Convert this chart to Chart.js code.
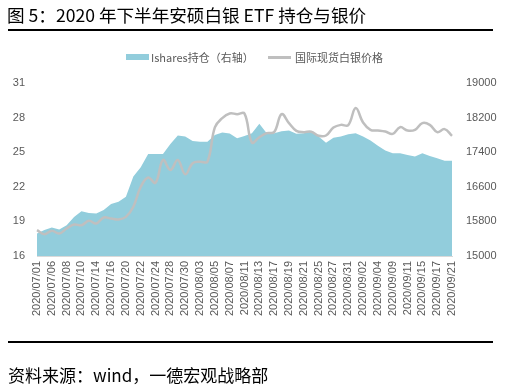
<!DOCTYPE html>
<html>
<head>
<meta charset="utf-8">
<script src="https://cdn.jsdelivr.net/npm/chart.js@4.4.0/dist/chart.umd.min.js"></script>
<style>
  html, body { margin: 0; padding: 0; background: #fff; }
  body { width: 509px; height: 392px; position: relative; overflow: hidden; font-family: "Noto Sans CJK SC", sans-serif; }
  #title { position: absolute; left: 7px; top: 4px; font-size: 17.6px; line-height: 21px; color: #000; white-space: nowrap; }
  .rule { position: absolute; left: 8px; width: 485px; height: 2px; background: #000; }
  #source { position: absolute; left: 8px; top: 364px; font-size: 17px; line-height: 21px; color: #000; white-space: nowrap; }
  #legend { position: absolute; top: 48px; left: 0; width: 509px; height: 18px; font-size: 11px; color: #595959; }
  .lg { position: absolute; top: 0; line-height: 18px; white-space: nowrap; }
  .sw { position: absolute; }
  canvas { position: absolute; left: 0; top: 0; }
</style>
</head>
<body>
<canvas id="c" width="509" height="392"></canvas>
<div id="title">图 5：2020 年下半年安硕白银 ETF 持仓与银价</div>
<div class="rule" style="top:29px"></div>
<div id="legend">
  <div class="sw" style="left:126px; top:6px; width:23px; height:6px; background:#92CDDC"></div>
  <div class="lg" style="left:151px">Ishares持仓（右轴）</div>
  <div class="sw" style="left:268px; top:8px; width:23px; height:3px; background:#BFBFBF"></div>
  <div class="lg" style="left:295px">国际现货白银价格</div>
</div>
<div class="rule" style="top:341px"></div>
<div id="source">资料来源：wind，一德宏观战略部</div>
<script>
const categories = [
  '2020/07/01','2020/07/02','2020/07/06','2020/07/07','2020/07/08','2020/07/09','2020/07/10',
  '2020/07/13','2020/07/14','2020/07/15','2020/07/16','2020/07/17','2020/07/20','2020/07/21',
  '2020/07/22','2020/07/23','2020/07/24','2020/07/27','2020/07/28','2020/07/29','2020/07/30',
  '2020/07/31','2020/08/03','2020/08/04','2020/08/05','2020/08/06','2020/08/07','2020/08/10',
  '2020/08/11','2020/08/12','2020/08/13','2020/08/14','2020/08/17','2020/08/18','2020/08/19',
  '2020/08/20','2020/08/21','2020/08/24','2020/08/25','2020/08/26','2020/08/27','2020/08/28',
  '2020/08/31','2020/09/01','2020/09/02','2020/09/03','2020/09/04','2020/09/08','2020/09/09',
  '2020/09/10','2020/09/11','2020/09/14','2020/09/15','2020/09/16','2020/09/17','2020/09/18',
  '2020/09/21'
];
// iShares silver ETF holdings (right axis)
const ishares = [
  15520,15600,15659,15613,15712,15904,16037,15997,15984,16061,16200,16253,16368,16840,
  17053,17360,17360,17360,17587,17784,17763,17661,17640,17640,17795,17853,17832,17720,
  17773,17840,18056,17840,17840,17885,17901,17824,17840,17880,17765,17619,17733,17765,
  17813,17840,17765,17669,17552,17437,17376,17376,17336,17299,17376,17315,17261,17205,
  17205
];
// International spot silver price (left axis)
const silver = [
  18.24,17.89,18.18,17.95,18.38,18.73,18.67,19.05,18.82,19.34,19.25,19.17,19.39,20.27,
  22.00,22.80,22.35,24.33,23.46,24.33,23.08,24.04,24.18,24.18,27.15,27.96,28.36,28.30,
  28.35,25.84,26.30,26.65,26.74,28.30,27.52,26.85,26.74,26.77,26.42,26.45,27.14,27.37,
  27.35,28.83,27.58,26.94,26.88,26.79,26.59,27.17,26.88,26.94,27.52,27.37,26.74,27.00,
  26.42
];
const leftTicks = [16, 19, 22, 25, 28, 31];
const rightTicks = [15000, 15800, 16600, 17400, 18200, 19000];

const tickFont = { family: '"Liberation Sans", "Noto Sans CJK SC", sans-serif', size: 11 };

new Chart(document.getElementById('c'), {
  type: 'line',
  data: {
    labels: categories,
    datasets: [
      {
        label: '国际现货白银价格',
        data: silver,
        yAxisID: 'y',
        borderColor: '#BFBFBF',
        borderWidth: 2.5,
        pointRadius: 0,
        tension: 0.4,
        fill: false,
        order: 0
      },
      {
        label: 'Ishares持仓（右轴）',
        data: ishares,
        yAxisID: 'y1',
        borderColor: '#92CDDC',
        borderWidth: 0,
        backgroundColor: '#92CDDC',
        pointRadius: 0,
        tension: 0,
        fill: 'start',
        order: 1
      }
    ]
  },
  options: {
    responsive: false,
    animation: false,
    layout: { padding: { left: 0, right: 0, top: 83, bottom: 0 } },
    plugins: { legend: { display: false }, tooltip: { enabled: false }, title: { display: false } },
    scales: {
      x: {
        grid: { display: false, drawTicks: false },
        border: { display: true, color: '#D9D9D9', width: 1 },
        ticks: {
          autoSkip: false, minRotation: 90, maxRotation: 90, padding: 5,
          color: '#595959', font: tickFont,
          callback: function (v, i) { return i % 2 === 0 ? categories[i] : ''; }
        },
        afterFit: function (s) { s.height = 392 - 256; }
      },
      y: {
        position: 'left', min: leftTicks[0], max: leftTicks[leftTicks.length - 1],
        grid: { display: false, drawTicks: false },
        border: { display: false },
        afterBuildTicks: function (s) { s.ticks = leftTicks.map(v => ({ value: v })); },
        ticks: { padding: 12, color: '#595959', font: tickFont, callback: v => String(v) },
        afterFit: function (s) { s.width = 37; }
      },
      y1: {
        position: 'right', min: rightTicks[0], max: rightTicks[rightTicks.length - 1],
        grid: { display: false, drawTicks: false },
        border: { display: false },
        afterBuildTicks: function (s) { s.ticks = rightTicks.map(v => ({ value: v })); },
        ticks: { padding: 14, color: '#595959', font: tickFont, callback: v => String(v) },
        afterFit: function (s) { s.width = 509 - 452; }
      }
    }
  }
});
</script>
</body>
</html>
